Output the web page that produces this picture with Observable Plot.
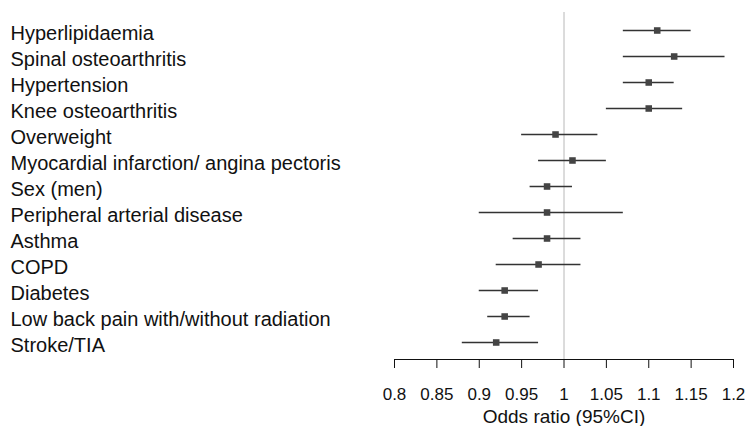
<!DOCTYPE html>
<html>
<head>
<meta charset="utf-8">
<script src="https://cdn.jsdelivr.net/npm/d3@7"></script>
<script src="https://cdn.jsdelivr.net/npm/@observablehq/plot@0.6"></script>
<style>
  html, body { margin: 0; padding: 0; background: #fff; }
</style>
</head>
<body>
<div id="chart"></div>
<script>
const categories = [
  "Hyperlipidaemia",
  "Spinal osteoarthritis",
  "Hypertension",
  "Knee osteoarthritis",
  "Overweight",
  "Myocardial infarction/ angina pectoris",
  "Sex (men)",
  "Peripheral arterial disease",
  "Asthma",
  "COPD",
  "Diabetes",
  "Low back pain with/without radiation",
  "Stroke/TIA"
];
const oddsRatio = [1.11, 1.13, 1.10, 1.10, 0.99, 1.01, 0.98, 0.98, 0.98, 0.97, 0.93, 0.93, 0.92];
const ciLow     = [1.07, 1.07, 1.07, 1.05, 0.95, 0.97, 0.96, 0.90, 0.94, 0.92, 0.90, 0.91, 0.88];
const ciHigh    = [1.15, 1.19, 1.13, 1.14, 1.04, 1.05, 1.01, 1.07, 1.02, 1.02, 0.97, 0.96, 0.97];
const xTicks = [0.8, 0.85, 0.9, 0.95, 1, 1.05, 1.1, 1.15, 1.2];
const referenceValue = [1];
const xLabel = "Odds ratio (95%CI)";

const rows = categories.map((c, i) => ({name: c, or: oddsRatio[i], lo: ciLow[i], hi: ciHigh[i]}));

const chart = Plot.plot({
  width: 747,
  height: 426,
  marginLeft: 394,
  marginRight: 14,
  marginTop: 12,
  marginBottom: 67,
  style: {fontFamily: "'Liberation Sans', Arial, sans-serif", fontSize: "17px", color: "#111", background: "#fff"},
  x: {domain: [0.8, 1.2]},
  y: {type: "point", domain: categories, padding: 0.56, axis: null},
  marks: [
    Plot.ruleX(referenceValue, {stroke: "#b8b8b8", strokeWidth: 1}),
    Plot.frame({anchor: "bottom", stroke: "#111", strokeWidth: 1}),
    Plot.axisX({
      ticks: xTicks,
      tickFormat: d3.format("~g"),
      tickSize: 9,
      tickPadding: 19,
      stroke: "#111",
      fill: "#111",
      fontSize: 17,
      label: null
    }),
    Plot.text([xLabel], {
      frameAnchor: "bottom",
      lineAnchor: "middle",
      dy: 57,
      fontSize: 19,
      fill: "#111",
      text: d => d
    }),
    Plot.ruleY(rows, {y: "name", x1: "lo", x2: "hi", stroke: "#333", strokeWidth: 1.6}),
    Plot.dot(rows, {y: "name", x: "or", symbol: "square", r: 3.7, fill: "#444", stroke: null}),
    Plot.text(rows, {
      y: "name",
      text: "name",
      frameAnchor: "left",
      textAnchor: "start",
      dx: -384,
      dy: 3,
      fontSize: 20,
      fill: "#111"
    })
  ]
});
document.getElementById("chart").appendChild(chart);
</script>
</body>
</html>
